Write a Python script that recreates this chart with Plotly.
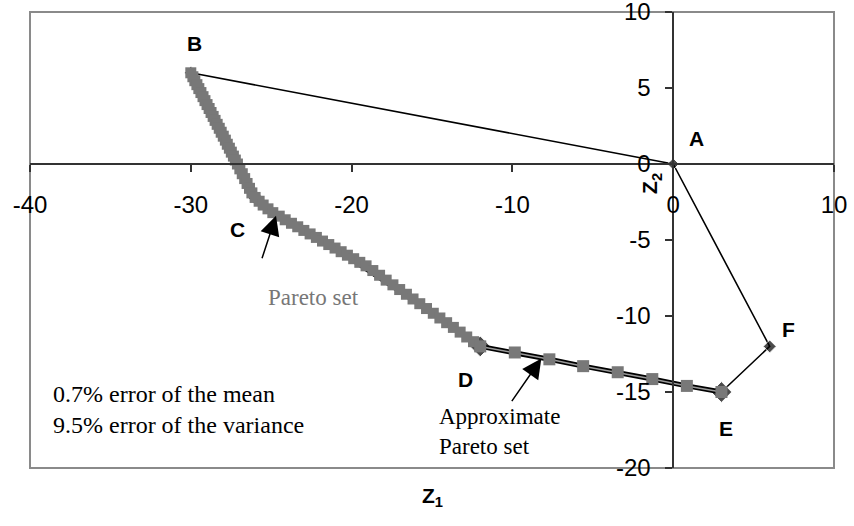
import plotly.graph_objects as go

# Polygon of extreme points A-B-C-D-E-F
poly_labels = ["A", "B", "C", "D", "E", "F"]
poly_x = [0, -30, -26, -12, 3, 6]
poly_y = [0, 6, -2.2, -12, -15, -12]

# Pareto set (grey squares)
pareto_x = [-30.0, -29.87, -29.75, -29.62, -29.5, -29.37, -29.24, -29.12, -28.99, -28.86,
            -28.74, -28.61, -28.49, -28.36, -28.23, -28.11, -27.98, -27.85, -27.73, -27.6,
            -27.48, -27.35, -27.23, -27.1, -26.95, -26.8, -26.65, -26.5, -26.35, -26.2,
            -26.0, -25.75, -25.5, -25.2, -24.9, -24.5, -24.13, -23.74, -23.35, -22.97,
            -22.58, -22.19, -21.81, -21.42, -21.03, -20.65, -20.26, -19.87, -19.49, -19.1,
            -18.68, -18.26, -17.85, -17.43, -17.01, -16.59, -16.18, -15.76, -15.34, -14.92,
            -14.51, -14.09, -13.67, -13.25, -12.84, -12.42, -12.0]
pareto_y = [6.0, 5.74, 5.48, 5.22, 4.96, 4.7, 4.43, 4.17, 3.91, 3.65,
            3.39, 3.13, 2.87, 2.61, 2.35, 2.09, 1.83, 1.57, 1.3, 1.04,
            0.78, 0.52, 0.26, 0.0, -0.32, -0.64, -0.96, -1.28, -1.6, -1.9,
            -2.2, -2.45, -2.7, -2.95, -3.2, -3.43, -3.67, -3.9, -4.13, -4.37,
            -4.6, -4.83, -5.07, -5.3, -5.53, -5.77, -6.0, -6.23, -6.47, -6.7,
            -7.01, -7.32, -7.64, -7.95, -8.26, -8.57, -8.88, -9.19, -9.51, -9.82,
            -10.13, -10.44, -10.75, -11.06, -11.38, -11.69, -12.0]

# Approximate Pareto set
approx_x = [-12.0, -9.85, -7.7, -5.6, -3.45, -1.3, 0.85, 3.0]
approx_y = [-12.0, -12.4, -12.85, -13.3, -13.7, -14.15, -14.6, -15.0]

x_ticks = [-40, -30, -20, -10, 0, 10]
x_tick_text = ["-40", "-30", "-20", "-10", "0", "10"]
y_ticks = [-20, -15, -10, -5, 0, 5, 10]
y_tick_text = ["-20", "-15", "-10", "-5", "0", "5", "10"]

fig = go.Figure()

# polygon lines
fig.add_trace(go.Scatter(
    x=poly_x + [poly_x[0]], y=poly_y + [poly_y[0]], mode="lines",
    line=dict(color="black", width=1.6), hoverinfo="skip", showlegend=False))
# diamonds
fig.add_trace(go.Scatter(
    x=poly_x, y=poly_y, mode="markers",
    marker=dict(symbol="diamond", color="black", size=[9, 10, 12, 16, 16, 10]),
    showlegend=False))
# Pareto set squares
fig.add_trace(go.Scatter(
    x=pareto_x, y=pareto_y, mode="markers",
    marker=dict(symbol="square", color="#787878", size=11),
    showlegend=False))
# Approximate Pareto set: double line + squares
fig.add_trace(go.Scatter(
    x=approx_x, y=approx_y, mode="lines",
    line=dict(color="black", width=5), showlegend=False))
fig.add_trace(go.Scatter(
    x=approx_x, y=approx_y, mode="lines+markers",
    line=dict(color="#9a9a9a", width=1.5),
    marker=dict(symbol="square", color="#787878", size=12),
    showlegend=False))

ann = []
label_pos = {"A": (1.43, 1.7), "B": (-29.75, 7.96), "C": (-27.1, -4.34),
             "D": (-12.9, -14.2), "E": (3.3, -17.4), "F": (7.2, -10.9)}
for lab in poly_labels:
    lx, ly = label_pos[lab]
    ann.append(dict(x=lx, y=ly, text="<b>%s</b>" % lab, showarrow=False,
                    font=dict(family="Liberation Sans, Arial", size=21, color="black")))

serif = "Liberation Serif, Times New Roman"
ann.append(dict(x=-22.4, y=-8.75, text="Pareto set", showarrow=False,
                font=dict(family=serif, size=23, color="#777777")))
ann.append(dict(x=-38.68, y=-16.12, text="0.7% error of the mean<br>9.5% error of the variance",
                showarrow=False, xanchor="left", align="left",
                font=dict(family=serif, size=24, color="black")))
ann.append(dict(x=-14.68, y=-17.6, text="Approximate<br>Pareto set",
                showarrow=False, xanchor="left", align="left",
                font=dict(family=serif, size=23, color="black")))
# arrows
ann.append(dict(x=-24.7, y=-3.4, ax=-25.6, ay=-6.3, axref="x", ayref="y",
                showarrow=True, arrowhead=2, arrowsize=2.6, arrowwidth=1.5,
                arrowcolor="black", text=""))
ann.append(dict(x=-8.2, y=-12.8, ax=-10.1, ay=-15.7, axref="x", ayref="y",
                showarrow=True, arrowhead=2, arrowsize=2.6, arrowwidth=1.5,
                arrowcolor="black", text=""))
# axis titles
ann.append(dict(x=0.5, y=-0.0965, xref="paper", yref="paper",
                text="<b>Z<sub>1</sub></b>", showarrow=False,
                font=dict(family="Liberation Sans, Arial", size=21, color="black")))
ann.append(dict(x=-1.37, y=-1.3, text="<b>Z<sub>2</sub></b>", showarrow=False,
                textangle=-90,
                font=dict(family="Liberation Sans, Arial", size=21, color="black")))

fig.update_layout(
    width=854, height=526,
    margin=dict(l=30, r=20, t=12, b=58),
    paper_bgcolor="white", plot_bgcolor="white",
    annotations=ann,
    shapes=[dict(type="rect", xref="paper", yref="paper", x0=0, y0=0, x1=1, y1=1,
                 line=dict(color="#8a8a8a", width=2), layer="below")],
    xaxis=dict(range=[-40, 10], tickvals=x_ticks, ticktext=x_tick_text,
               showgrid=False, zeroline=False, automargin=False,
               showline=True, linecolor="#333333", linewidth=1.5,
               ticks="outside", ticklen=7, tickcolor="#333333", tickwidth=1.5,
               anchor="free", position=2/3, ticklabelstandoff=12,
               ticklabeloverflow="allow",
               tickfont=dict(family="Liberation Sans, Arial", size=24, color="black")),
    yaxis=dict(range=[-20, 10], tickvals=y_ticks, ticktext=y_tick_text,
               showgrid=False, zeroline=False, automargin=False,
               showline=True, linecolor="#333333", linewidth=1.5,
               ticks="outside", ticklen=7, tickcolor="#333333", tickwidth=1.5,
               anchor="free", position=0.8, ticklabelstandoff=10,
               ticklabeloverflow="allow",
               tickfont=dict(family="Liberation Sans, Arial", size=24, color="black")),
)

fig.write_html("out.html")
